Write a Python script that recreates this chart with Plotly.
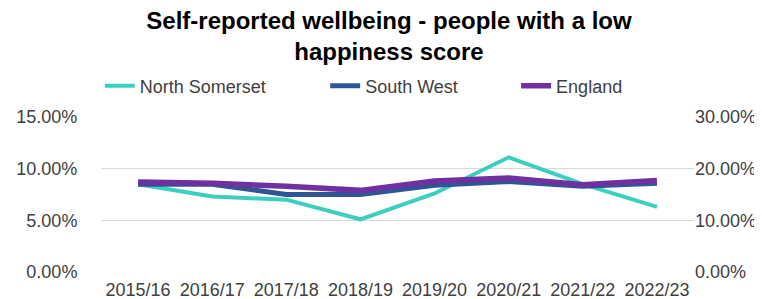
import plotly.graph_objects as go

years = ["2015/16", "2016/17", "2017/18", "2018/19", "2019/20", "2020/21", "2021/22", "2022/23"]
north_somerset = [8.5, 7.3, 7.0, 5.1, 7.6, 11.1, 8.5, 6.3]
south_west = [8.5, 8.5, 7.5, 7.5, 8.4, 8.75, 8.3, 8.6]
england = [8.7, 8.6, 8.3, 7.9, 8.8, 9.1, 8.45, 8.85]

left_ticks = [0, 5, 10, 15]
left_labels = ["0.00%", "5.00%", "10.00%", "15.00%"]
right_ticks = [0, 10, 20, 30]
right_labels = ["0.00%", "10.00%", "20.00%", "30.00%"]

fig = go.Figure()
fig.add_trace(go.Scatter(x=years, y=north_somerset, name="North Somerset", mode="lines",
                         line=dict(color="#3CCFC0", width=4), legend="legend"))
fig.add_trace(go.Scatter(x=years, y=south_west, name="South West", mode="lines",
                         line=dict(color="#2F5597", width=5), legend="legend2"))
fig.add_trace(go.Scatter(x=years, y=england, name="England", mode="lines",
                         line=dict(color="#7030A0", width=5.5), legend="legend3"))
# invisible trace to show the secondary axis
fig.add_trace(go.Scatter(x=years, y=[None] * len(years), yaxis="y2", showlegend=False,
                         hoverinfo="skip", mode="lines"))

font_family = "Liberation Sans, Arial, sans-serif"
txt = "#404040"
leg_common = dict(orientation="h", xanchor="left", y=1.2, yanchor="middle",
                  font=dict(size=18, color=txt), bgcolor="rgba(0,0,0,0)")
fig.update_layout(
    width=762, height=299,
    margin=dict(l=93, r=76, t=109, b=35),
    paper_bgcolor="white", plot_bgcolor="white",
    font=dict(family=font_family, size=18, color=txt),
    title=dict(text="<b>Self-reported wellbeing - people with a low<br>happiness score</b>",
               x=0.5, xanchor="center", y=0.93, yanchor="middle",
               font=dict(size=24, color="#000000", family=font_family)),
    showlegend=True,
    legend=dict(x=-0.002, **leg_common),
    legend2=dict(x=0.378, **leg_common),
    legend3=dict(x=0.700, **leg_common),
    xaxis=dict(type="category", showgrid=False, showline=False, ticks="",
               tickfont=dict(size=18, color=txt), range=[-0.5, 7.5],
               ticklabelstandoff=5, automargin=False),
    yaxis=dict(range=[0, 15], tickvals=left_ticks, ticktext=left_labels,
               showgrid=True, gridcolor="#D9D9D9", gridwidth=1, zeroline=False,
               showline=False, ticks="outside", ticklen=19, tickcolor="rgba(0,0,0,0)",
               tickfont=dict(size=18, color=txt), automargin=False),
    yaxis2=dict(range=[0, 30], tickvals=right_ticks, ticktext=right_labels,
                overlaying="y", side="right", showgrid=False, zeroline=False,
                showline=False, ticks="",
                tickfont=dict(size=18, color=txt), automargin=False),
)

fig.write_html("out.html")
